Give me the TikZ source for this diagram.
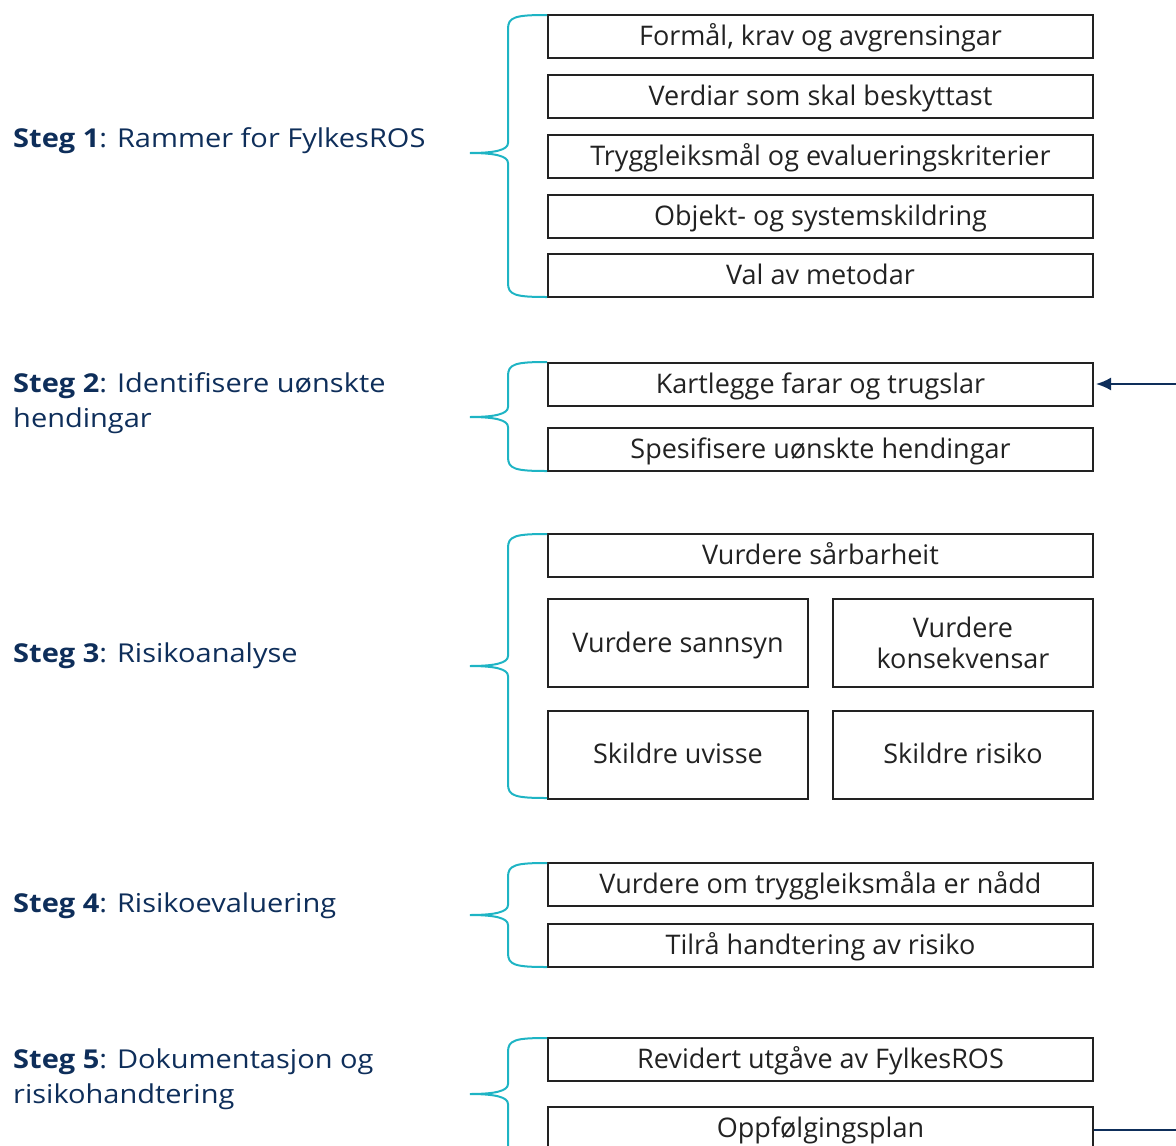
\documentclass[tikz,border=0pt]{standalone}
\usepackage{fontspec}
\setmainfont{Open Sans}
\newfontfamily\stegfont[FakeStretch=1.115]{Open Sans}
\usetikzlibrary{arrows.meta}

\definecolor{stegblue}{RGB}{14,46,90}
\definecolor{klammeteal}{RGB}{30,180,196}
\definecolor{boksgrey}{RGB}{34,34,34}

\tikzset{
  boks/.style={draw=boksgrey, line width=2pt, inner sep=0pt, text=boksgrey,
    minimum width=545pt, minimum height=43pt, align=center,
    text height=21pt, text depth=3pt,
    font=\fontsize{27}{31}\selectfont},
  smaboks/.style={boks, minimum width=260pt, minimum height=88pt},
  stegtekst/.style={anchor=base west, inner sep=0pt, text=stegblue, align=left,
    font=\stegfont\fontsize{26}{35}\selectfont},
  klammestil/.style={draw=klammeteal, line width=2pt},
  pil/.style={draw=stegblue, line width=2pt},
}

% klamme: topp, spiss, botn
\newcommand{\klamme}[3]{%
  \draw[klammestil] (547,#1) .. controls (515,#1) and (508,#1+2) .. (508,#1+14)
    -- (508,#2-10) .. controls (508,#2-3) and (495,#2) .. (470,#2)
    .. controls (495,#2) and (508,#2+3) .. (508,#2+10)
    -- (508,#3-14) .. controls (508,#3-2) and (515,#3) .. (547,#3);}

\begin{document}
\begin{tikzpicture}[x=1pt, y=-1pt]
  \useasboundingbox (0,0) rectangle (1176,1146);

  % Steg 1
  \node[stegtekst] (steg1) at (13,147) {\textbf{Steg 1}: Rammer for FylkesROS};
  \node[boks] (formal) at (820.5,36) {Formål, krav og avgrensingar};
  \node[boks] (verdiar) at (820.5,96) {Verdiar som skal beskyttast};
  \node[boks] (trygg) at (820.5,156) {Tryggleiksmål og evalueringskriterier};
  \node[boks] (objekt) at (820.5,216) {Objekt- og systemskildring};
  \node[boks] (metode) at (820.5,275.5) {Val av metodar};
  \klamme{15}{153}{297}

  % Steg 2 (base = siste linja)
  \node[stegtekst] (steg2) at (13,427) {\textbf{Steg 2}: Identifisere uønskte\\hendingar};
  \node[boks] (kart) at (820.5,384) {Kartlegge farar og trugslar};
  \node[boks] (spes) at (820.5,449) {Spesifisere uønskte hendingar};
  \klamme{362}{417}{471}

  % Steg 3
  \node[stegtekst] (steg3) at (13,662) {\textbf{Steg 3}: Risikoanalyse};
  \node[boks] (saarbar) at (820.5,555.5) {Vurdere sårbarheit};
  \node[smaboks] (sannsyn) at (678,643) {Vurdere sannsyn};
  \node[smaboks, text height={}, text depth={}] (konsekv) at (963,643) {Vurdere\\konsekvensar};
  \node[smaboks] (uvisse) at (678,754.5) {Skildre uvisse};
  \node[smaboks] (risiko) at (963,754.5) {Skildre risiko};
  \klamme{534}{666}{798}

  % Steg 4
  \node[stegtekst] (steg4) at (13,912) {\textbf{Steg 4}: Risikoevaluering};
  \node[boks] (naadd) at (820.5,884.5) {Vurdere om tryggleiksmåla er nådd};
  \node[boks] (tilraa) at (820.5,945) {Tilrå handtering av risiko};
  \klamme{863}{915}{967}

  % Steg 5
  \node[stegtekst] (steg5) at (13,1103) {\textbf{Steg 5}: Dokumentasjon og\\risikohandtering};
  \node[boks] (revidert) at (820.5,1059.5) {Revidert utgåve av FylkesROS};
  \node[boks] (oppf) at (820.5,1128.5) {Oppfølgingsplan};
  \klamme{1038}{1094}{1180}

  % tilbakekopling
  \coordinate (inn) at (1176,384);
  \coordinate (ut) at (1176,1130);
  \draw[pil, -{Latex[length=15pt, width=13pt]}] (inn) -- ([xshift=2pt]kart.east);
  \draw[pil] (oppf.east |- ut) -- (ut);
\end{tikzpicture}
\end{document}
